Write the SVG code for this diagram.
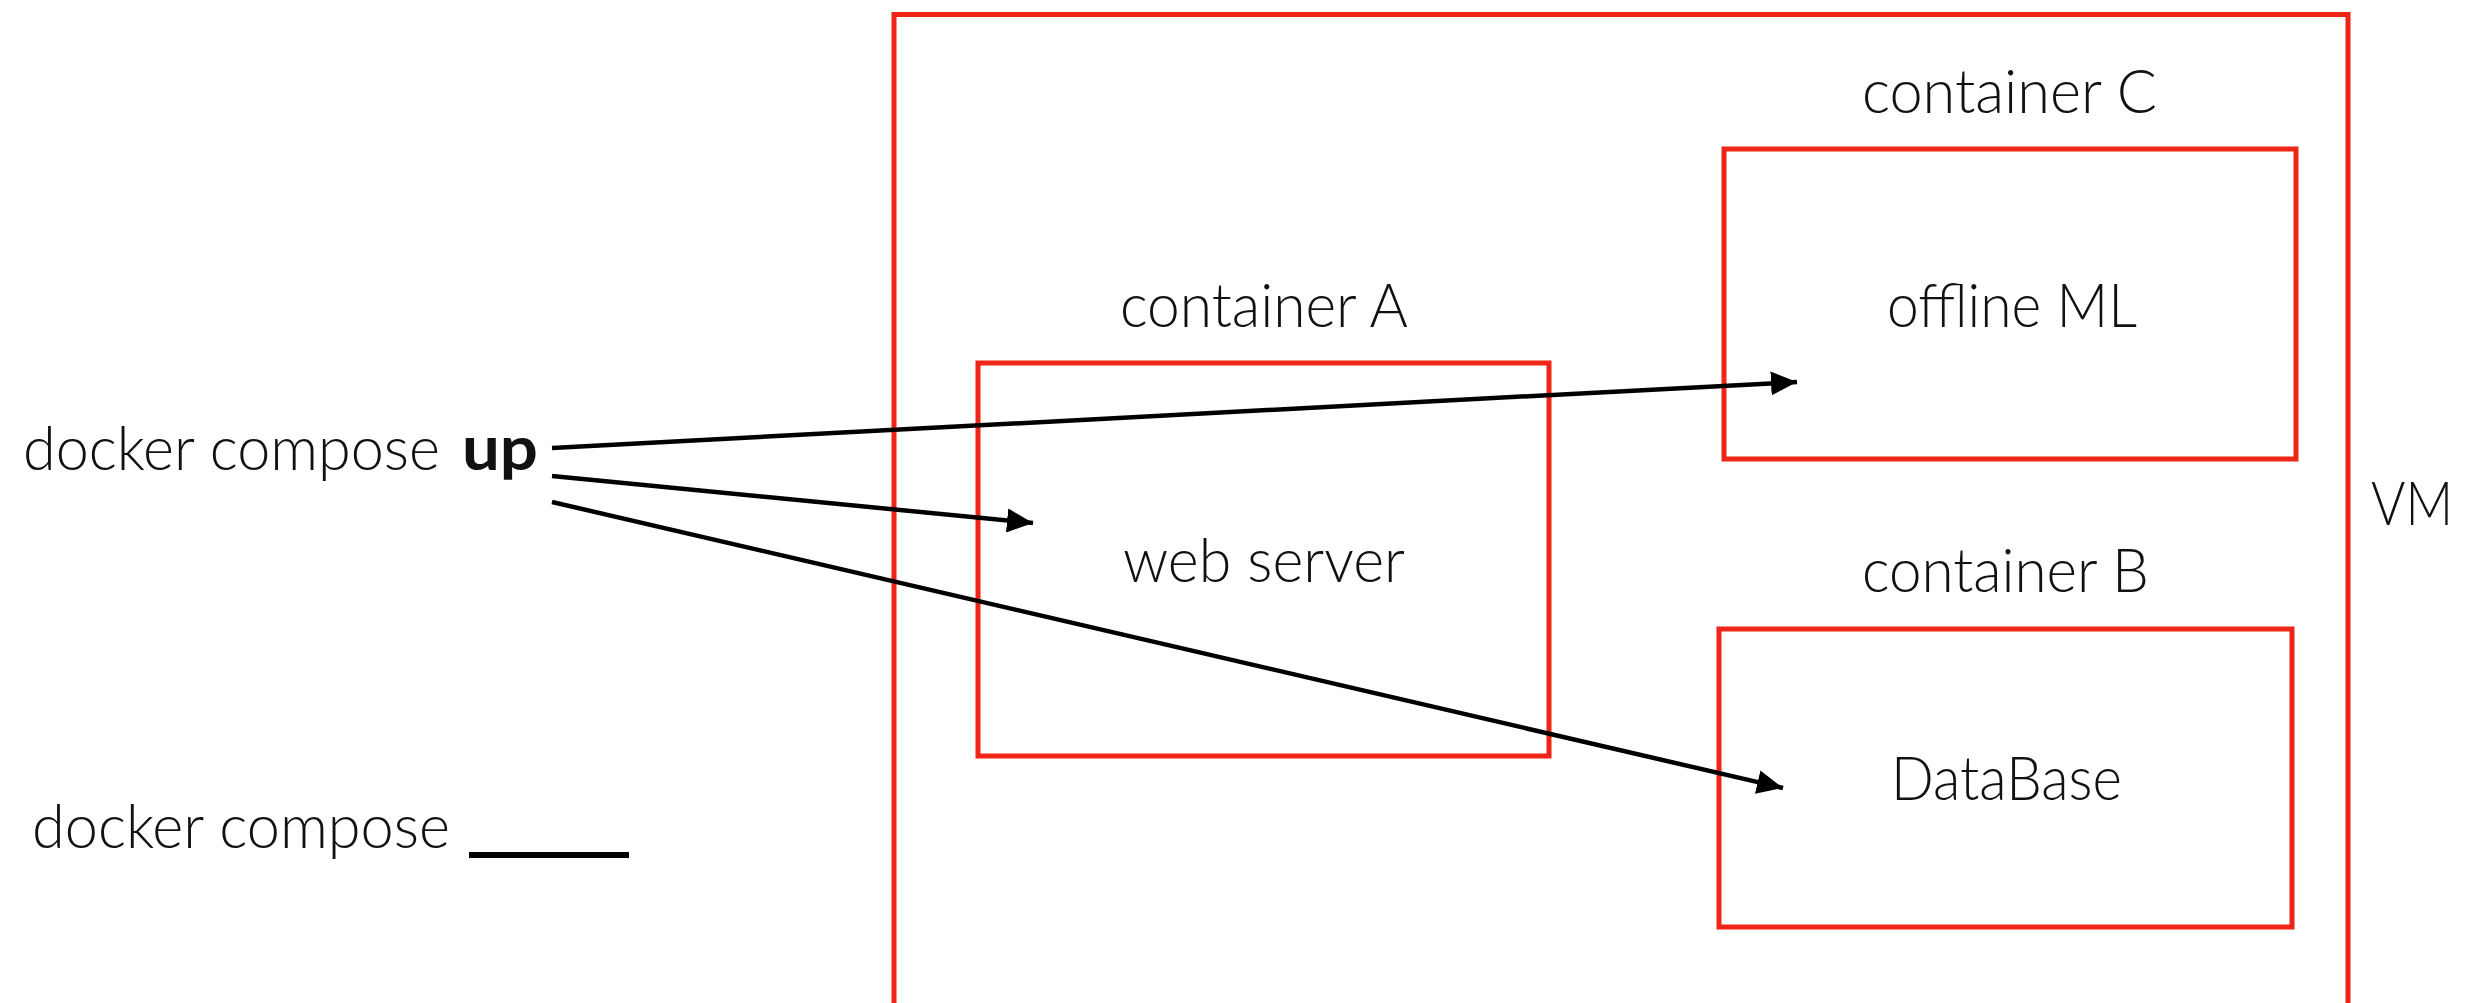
<svg xmlns="http://www.w3.org/2000/svg" width="2478" height="1003" viewBox="0 0 2478 1003">
<style>
  .box { fill: none; stroke: #ee2517; stroke-width: 5; }
  .t { font-family: Lato, "Open Sans", "Liberation Sans", sans-serif; font-weight: 300; font-size: 62px; fill: #111; }
  .b { font-weight: 700; }
  .conn { stroke: #000; stroke-width: 4.5; fill: none; }
</style>
<defs>
  <marker id="ah" viewBox="0 0 26 24" refX="26" refY="12" markerWidth="26" markerHeight="24" markerUnits="userSpaceOnUse" orient="auto">
    <path d="M0,0 L26,12 L0,24 z" fill="#000"/>
  </marker>
</defs>
<rect width="2478" height="1003" fill="#fff"/>
<g id="vm">
  <path class="box" d="M894,1010 L894,14.5 L2348,14.5 L2348,1010"/>
  <text class="t" x="2371" y="525" textLength="82" lengthAdjust="spacingAndGlyphs">VM</text>
</g>
<g id="containerA">
  <text class="t" x="1120" y="327" textLength="288" lengthAdjust="spacingAndGlyphs">container A</text>
  <rect class="box" x="978" y="363" width="571" height="393"/>
  <text class="t" x="1123" y="582" textLength="282" lengthAdjust="spacingAndGlyphs">web server</text>
</g>
<g id="containerC">
  <text class="t" x="1862" y="113" textLength="295" lengthAdjust="spacingAndGlyphs">container C</text>
  <rect class="box" x="1724" y="149" width="572" height="310"/>
  <text class="t" x="1887" y="327" textLength="250" lengthAdjust="spacingAndGlyphs">offline ML</text>
</g>
<g id="containerB">
  <text class="t" x="1862" y="592" textLength="287" lengthAdjust="spacingAndGlyphs">container B</text>
  <rect class="box" x="1719" y="629" width="573" height="298"/>
  <text class="t" x="1891" y="800" textLength="231" lengthAdjust="spacingAndGlyphs">DataBase</text>
</g>
<g id="cmd-up">
  <text class="t" x="23" y="470" textLength="417" lengthAdjust="spacingAndGlyphs">docker compose</text>
  <text class="t b" x="462" y="470" textLength="76" lengthAdjust="spacingAndGlyphs">up</text>
</g>
<g id="cmd-blank">
  <text class="t" x="32" y="848" textLength="418" lengthAdjust="spacingAndGlyphs">docker compose</text>
  <line x1="469" y1="855" x2="629" y2="855" stroke="#000" stroke-width="6"/>
</g>
<g id="connectors">
  <line class="conn" x1="552" y1="448" x2="1797" y2="382" marker-end="url(#ah)"/>
  <line class="conn" x1="552" y1="476" x2="1033" y2="523" marker-end="url(#ah)"/>
  <line class="conn" x1="552" y1="502" x2="1783" y2="788" marker-end="url(#ah)"/>
</g>
</svg>
